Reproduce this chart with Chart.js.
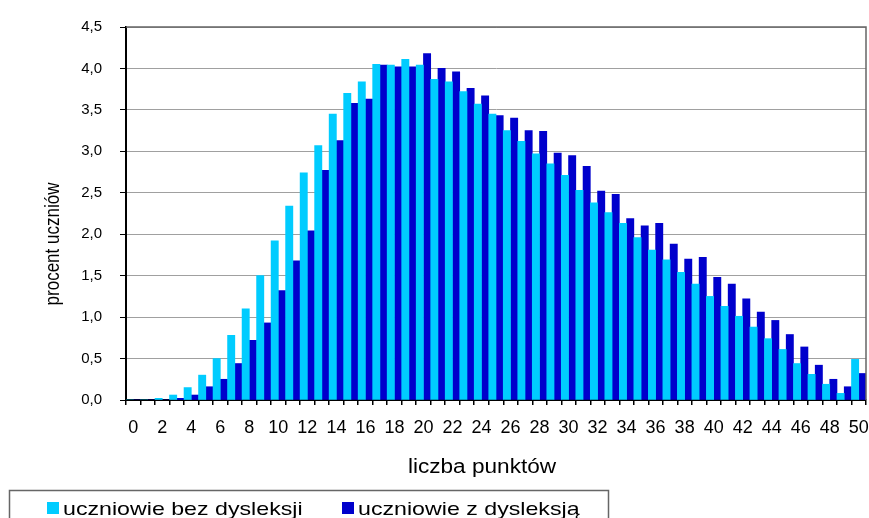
<!DOCTYPE html>
<html>
<head>
<meta charset="utf-8">
<script src="https://cdn.jsdelivr.net/npm/chart.js@4"></script>
<style>
html, body { margin: 0; padding: 0; background: #fff; overflow: hidden; }
#wrap { width: 869px; height: 518px; position: relative; }
</style>
</head>
<body>
<div id="wrap"><canvas id="myChart"></canvas></div>
<script>
const punkty = ['0','1','2','3','4','5','6','7','8','9','10','11','12','13','14','15','16','17','18','19','20',
    '21','22','23','24','25','26','27','28','29','30','31','32','33','34','35','36','37','38','39','40',
    '41','42','43','44','45','46','47','48','49','50'];
const bezDysleksji = [0, 0, 0.02, 0.06, 0.15, 0.30, 0.50, 0.78, 1.10, 1.50, 1.92, 2.34, 2.74, 3.07, 3.45, 3.70, 3.84,
    4.05, 4.04, 4.11, 4.04, 3.87, 3.84, 3.72, 3.57, 3.45, 3.25, 3.12, 2.97, 2.85, 2.71, 2.53, 2.38, 2.26, 2.13,
    1.96, 1.81, 1.69, 1.54, 1.40, 1.25, 1.13, 1.01, 0.88, 0.74, 0.61, 0.44, 0.31, 0.19, 0.08, 0.49];
const zDysleksja = [0, 0, 0, 0.02, 0.06, 0.16, 0.25, 0.44, 0.72, 0.93, 1.32, 1.68, 2.04, 2.77, 3.13, 3.58, 3.63,
    4.04, 4.02, 4.02, 4.18, 4.00, 3.96, 3.76, 3.67, 3.43, 3.40, 3.25, 3.24, 2.98, 2.95, 2.82, 2.52, 2.48, 2.19,
    2.10, 2.13, 1.88, 1.70, 1.72, 1.48, 1.40, 1.22, 1.06, 0.96, 0.79, 0.64, 0.42, 0.25, 0.16, 0.32];
const serie = ['uczniowie bez dysleksji', 'uczniowie z dysleksją'];
const tytulX = 'liczba punktów';
const tytulY = 'procent uczniów';

const czcionka = "'Liberation Sans', Arial, sans-serif";

// ramka, tytuly osi i legenda w ramce
const dodatki = {
    id: 'dodatki',
    afterDraw(chart) {
        const ctx = chart.ctx;
        const a = chart.chartArea;
        ctx.save();
        ctx.strokeStyle = '#666';
        ctx.lineWidth = 1.5;
        ctx.beginPath();
        ctx.moveTo(a.left, a.top);
        ctx.lineTo(a.right, a.top);
        ctx.lineTo(a.right, a.bottom);
        ctx.stroke();

        ctx.fillStyle = '#000';
        ctx.textAlign = 'center';
        ctx.textBaseline = 'middle';
        ctx.save();
        ctx.font = '17px ' + czcionka;
        ctx.translate(54, 244);
        ctx.rotate(-Math.PI / 2);
        ctx.scale(1, 1.15);
        ctx.fillText(tytulY, 0, 0);
        ctx.restore();

        ctx.save();
        ctx.font = '20px ' + czcionka;
        ctx.textBaseline = 'alphabetic';
        ctx.translate(482, 473);
        ctx.scale(1.13, 1);
        ctx.fillText(tytulX, 0, 0);
        ctx.restore();

        // legenda
        ctx.strokeStyle = '#666';
        ctx.lineWidth = 1.5;
        ctx.strokeRect(9.5, 490.5, 599, 40);
        const pozycje = [47, 342];
        chart.data.datasets.forEach((ds, i) => {
            const x = pozycje[i];
            ctx.fillStyle = ds.backgroundColor;
            ctx.fillRect(x, 502, 12, 12);
            ctx.save();
            ctx.fillStyle = '#000';
            ctx.font = '19px ' + czcionka;
            ctx.textAlign = 'left';
            ctx.textBaseline = 'alphabetic';
            ctx.translate(x + 16, 515);
            ctx.scale(1.22, 1);
            ctx.fillText(ds.label, 0, 0);
            ctx.restore();
        });
        ctx.restore();
    }
};

const chart = new Chart(document.getElementById('myChart'), {
    type: 'bar',
    data: {
        labels: punkty,
        datasets: [{
            label: serie[0],
            data: bezDysleksji,
            backgroundColor: '#00ccff'
        }, {
            label: serie[1],
            data: zDysleksja,
            backgroundColor: '#0000cc'
        }]
    },
    options: {
        responsive: true,
        maintainAspectRatio: false,
        animation: false,
        devicePixelRatio: 1,
        categoryPercentage: 1,
        barPercentage: 1,
        layout: { padding: { top: 25, right: 3, left: 0, bottom: 0 } },
        plugins: {
            legend: { display: false },
            tooltip: { enabled: false }
        },
        scales: {
            x: {
                afterFit: s => { s.height = 118; s.paddingLeft = 0; s.paddingRight = 0; },
                grid: { drawOnChartArea: false, drawTicks: true, tickLength: 5, tickColor: '#000', lineWidth: 1.5, offset: true },
                border: { color: '#000', width: 2 },
                ticks: {
                    autoSkip: false,
                    maxRotation: 0,
                    padding: 12,
                    color: '#000',
                    font: { family: czcionka, size: 18 },
                    callback: (v, i) => (i % 2 === 0 ? punkty[i] : '')
                }
            },
            y: {
                min: 0,
                max: 4.5,
                afterFit: s => { s.width = 126; },
                grid: { color: '#a0a0a0', lineWidth: 1, tickColor: '#000', tickLength: 6 },
                border: { color: '#000', width: 2 },
                ticks: {
                    stepSize: 0.5,
                    padding: 18,
                    color: '#000',
                    font: { family: czcionka, size: 15 },
                    callback: v => v.toFixed(1).replace('.', ',')
                }
            }
        }
    },
    plugins: [dodatki]
});
</script>
</body>
</html>
